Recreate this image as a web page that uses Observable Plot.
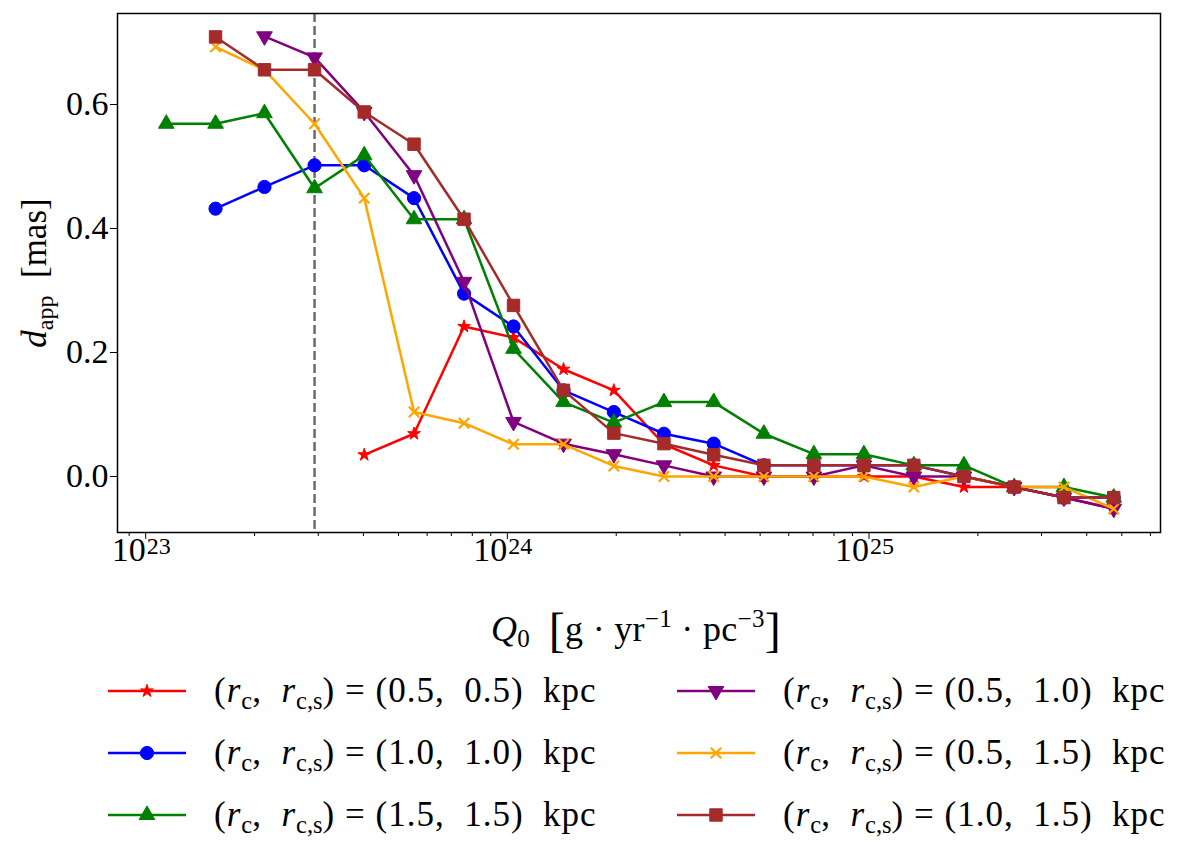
<!DOCTYPE html>
<html>
<head>
<meta charset="utf-8">
<script src="https://cdn.jsdelivr.net/npm/d3@7"></script>
<script src="https://cdn.jsdelivr.net/npm/@observablehq/plot@0.6"></script>
<style>
  body { margin: 0; background: white; font-family: "Liberation Serif", serif; color: black; }
  #chart { width: 1200px; }
  .legend {
    display: grid;
    grid-auto-flow: column;
    grid-template-rows: repeat(3, 62px);
    grid-template-columns: 569px 520px;
    padding-left: 108px;
    font-size: 35px;
    letter-spacing: 1px;
  }
  .item { display: flex; align-items: center; white-space: pre; }
  .item svg { margin-right: 28px; flex: none; }
  .item sub { font-size: 0.7em; vertical-align: -0.3em; line-height: 0; letter-spacing: 0; }
</style>
</head>
<body>
<div id="chart"></div>
<div class="legend" id="legend"></div>
<script>
// Q0 values (g yr^-1 pc^-3)
const Q = [1.14e23, 1.56e23, 2.13e23, 2.93e23, 4.02e23, 5.52e23, 7.59e23, 1.04e24, 1.43e24, 1.97e24,
           2.71e24, 3.72e24, 5.12e24, 7.04e24, 9.68e24, 1.33e25, 1.83e25, 2.52e25, 3.46e25, 4.75e25];

// d_app (mas) per core radii (r_c, r_c,s)
const d_05_05 = [null, null, null, null, 0.035, 0.069, 0.242, 0.224, 0.173, 0.139,
                 0.052, 0.018, 0.0, 0.0, 0.0, 0.0, -0.017, -0.017, -0.034, -0.052];
const d_10_10 = [null, 0.432, 0.467, 0.502, 0.502, 0.449, 0.295, 0.242, 0.139, 0.104,
                 0.069, 0.053, 0.018, 0.018, 0.018, 0.018, 0.0, -0.017, -0.034, -0.034];
const d_15_15 = [0.569, 0.569, 0.586, 0.465, 0.518, 0.415, 0.415, 0.206, 0.120, 0.087,
                 0.120, 0.120, 0.069, 0.036, 0.036, 0.018, 0.018, -0.017, -0.017, -0.034];
const d_05_10 = [null, null, 0.710, 0.676, 0.588, 0.486, 0.314, 0.088, 0.053, 0.036,
                 0.018, 0.0, 0.0, 0.0, 0.018, 0.0, 0.0, -0.017, -0.034, -0.052];
const d_05_15 = [null, 0.693, 0.656, 0.569, 0.449, 0.104, 0.086, 0.052, 0.052, 0.017,
                 0.0, 0.0, 0.0, 0.0, 0.0, -0.017, 0.0, -0.017, -0.017, -0.052];
const d_10_15 = [null, 0.709, 0.656, 0.656, 0.588, 0.536, 0.415, 0.276, 0.139, 0.070,
                 0.053, 0.035, 0.018, 0.018, 0.018, 0.018, 0.0, -0.017, -0.034, -0.034];

const radii = [["0.5", "0.5"], ["1.0", "1.0"], ["1.5", "1.5"], ["0.5", "1.0"], ["0.5", "1.5"], ["1.0", "1.5"]];
const qLimit = [2.93e23];

const yTicks = [0, 0.2, 0.4, 0.6];
const majorTicks = [1e23, 1e24, 1e25];
const minorTicks = [9e22, 2e23, 3e23, 4e23, 5e23, 6e23, 7e23, 8e23, 9e23,
                    2e24, 3e24, 4e24, 5e24, 6e24, 7e24, 8e24, 9e24,
                    2e25, 3e25, 4e25, 5e25, 6e25];

const series = [
  {vals: d_05_05, color: "red",    symbol: "star",     r: 4.0, fill: true},
  {vals: d_10_10, color: "blue",   symbol: "circle",   r: 6.6, fill: true},
  {vals: d_15_15, color: "green",  symbol: "triangle", r: 5.8, fill: true},
  {vals: d_05_10, color: "purple", symbol: "triangle", r: 5.8, fill: true, rotate: 180},
  {vals: d_05_15, color: "orange", symbol: "times",    r: 4.8, fill: false},
  {vals: d_10_15, color: "brown",  symbol: "square",   r: 7.0, fill: true}
]

const rows = series.map(s => Q.map((q, i) => ({Q: q, d: s.vals[i]})).filter(r => r.d != null))

const chart = Plot.plot({
  width: 1200,
  height: 660,
  marginLeft: 117,
  marginRight: 40,
  marginTop: 13,
  marginBottom: 128,
  x: {type: "log", domain: [10 ** 22.922, 10 ** 25.806]},
  y: {domain: [-0.0903, 0.7468]},
  style: {fontFamily: "Liberation Serif", fontSize: "34px", color: "black", background: "white"},
  marks: [
    Plot.ruleX(qLimit, {stroke: "#666", strokeWidth: 2.4, strokeDasharray: "9,4"}),
    ...series.flatMap((s, k) => [
      Plot.line(rows[k], {x: "Q", y: "d", stroke: s.color, strokeWidth: 2.5}),
      Plot.dot(rows[k], {
        x: "Q", y: "d", symbol: s.symbol, r: s.r, rotate: s.rotate || 0,
        fill: s.fill ? s.color : "none", stroke: s.color, strokeWidth: s.fill ? 1 : 2.2
      })
    ]),
    Plot.frame({stroke: "black", strokeWidth: 1.5}),
    // ticks
    Plot.axisY(yTicks, {tickSize: 7, tickFormat: () => "", label: null}),
    Plot.axisX(minorTicks, {tickSize: 4, tickFormat: () => "", label: null}),
    Plot.axisX(majorTicks, {tickSize: 7, tickFormat: () => "", label: null}),
    // tick labels
    Plot.text(yTicks, {y: d => d, frameAnchor: "left", dx: -9, textAnchor: "end",
                       text: d3.format(".1f"), fontSize: 34}),
    Plot.text(majorTicks, {x: d => d, frameAnchor: "bottom", dy: 28, textAnchor: "end",
                           text: () => "10", fontSize: 34}),
    Plot.text(majorTicks, {x: d => d, frameAnchor: "bottom", dy: 21, dx: 1, textAnchor: "start",
                           text: d => String(Math.round(Math.log10(d))), fontSize: 24})
  ]
})

const svg = d3.select(chart)

// y label: d_app [mas]
const yl = svg.append("text")
  .attr("transform", "translate(46,273) rotate(-90)")
  .attr("text-anchor", "middle")
  .attr("font-size", 35)
yl.append("tspan").attr("font-style", "italic").text("d")
yl.append("tspan").attr("font-size", 24).attr("dy", 7).text("app")
yl.append("tspan").attr("dy", -7).text("  [mas]")

// x label: Q_0 [g · yr^-1 · pc^-3]
const xl = svg.append("text")
  .attr("x", 636)
  .attr("y", 641)
  .attr("text-anchor", "middle")
  .attr("font-size", 36)
  .attr("letter-spacing", 0.3)
xl.append("tspan").attr("font-style", "italic").text("Q")
xl.append("tspan").attr("font-size", 25).attr("dy", 6).text("0")
xl.append("tspan").attr("dy", -6).text("  ")
xl.append("tspan").attr("font-size", 48).attr("dy", 5).text("[")
xl.append("tspan").attr("dy", -5).text("g · yr")
xl.append("tspan").attr("font-size", 25).attr("dy", -14).text("−1")
xl.append("tspan").attr("dy", 14).text(" · pc")
xl.append("tspan").attr("font-size", 25).attr("dy", -14).text("−3")
xl.append("tspan").attr("font-size", 48).attr("dy", 19).text("]")

d3.select("#chart").append(() => chart)

// legend, two columns like the original
const legend = d3.select("#legend")
series.forEach((s, k) => {
  const item = legend.append("div").attr("class", "item")
  const g = item.append("svg").attr("width", 78).attr("height", 24)
  g.append("line").attr("x1", 0).attr("x2", 78).attr("y1", 12).attr("y2", 12)
    .attr("stroke", s.color).attr("stroke-width", 2.5)
  const type = {star: d3.symbolStar, circle: d3.symbolCircle, triangle: d3.symbolTriangle,
                times: d3.symbolTimes, square: d3.symbolSquare}[s.symbol]
  g.append("path")
    .attr("d", d3.symbol(type, s.r * s.r * Math.PI)())
    .attr("transform", `translate(39,12) rotate(${s.rotate || 0})`)
    .attr("fill", s.fill ? s.color : "none")
    .attr("stroke", s.color)
    .attr("stroke-width", s.fill ? 1 : 2.2)
  item.append("span").html(
    `(<i>r</i><sub>c</sub>,  <i>r</i><sub>c,s</sub>) = (${radii[k][0]},  ${radii[k][1]})  kpc`)
})
</script>
</body>
</html>
